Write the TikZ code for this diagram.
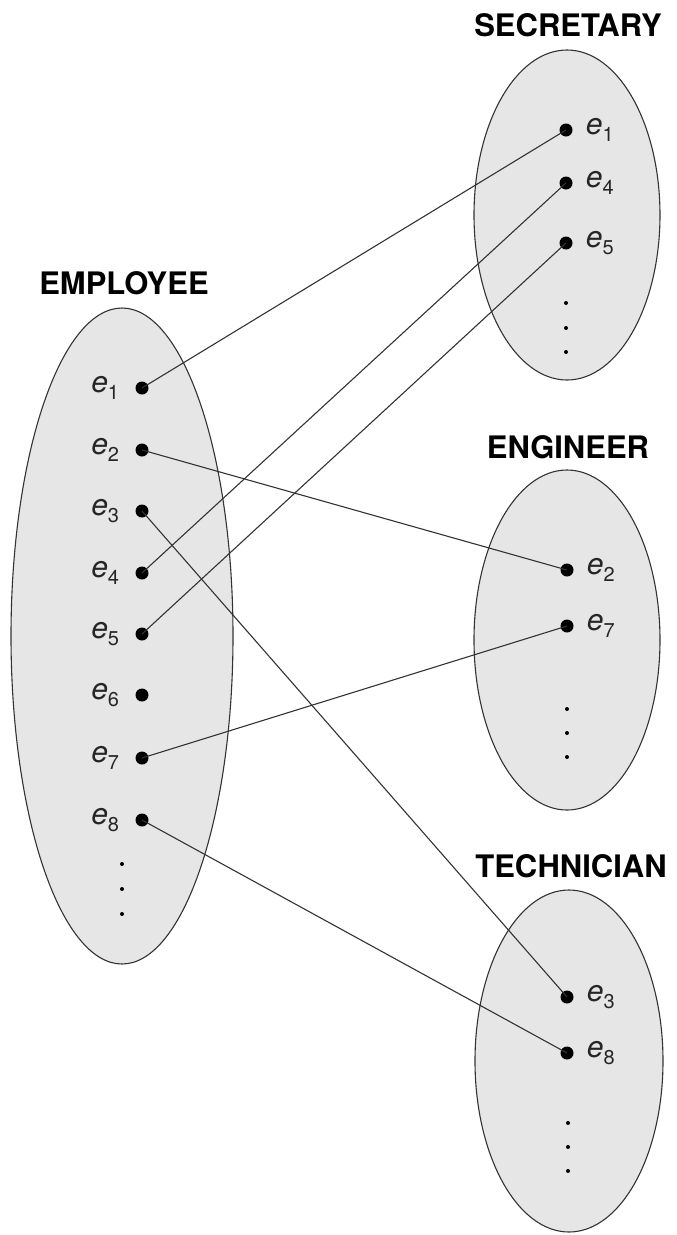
\documentclass[tikz,border=0pt]{standalone}
\usepackage{fontspec}
\setmainfont{TeX Gyre Heros}
\usepackage{xcolor}
\usepackage{tikz}

\definecolor{setgray}{HTML}{E6E6E6}
\definecolor{linegray}{HTML}{333333}

\newcommand{\ent}[1]{\textit{e}\raisebox{-0.25em}{\fontsize{20}{20}\selectfont #1}}

\tikzset{
	setoval/.style={draw=linegray, line width=1.1pt, fill=setgray},
	elt/.style={shape=circle, fill=black, inner sep=0pt, minimum size=13pt},
	moredots/.style={shape=circle, fill=black, inner sep=0pt, minimum size=4pt},
	settitle/.style={font=\fontsize{31}{31}\selectfont\bfseries, text=black},
	link/.style={linegray, line width=1.1pt},
	every label/.style={font=\fontsize{30}{30}\selectfont, inner sep=0pt, text=black!85}
}

\begin{document}
\begin{tikzpicture}[x=1pt,y=-1pt]
			\useasboundingbox (0,0) rectangle (677,1235);

			%% sets
			\draw[setoval] (122,636) ellipse [x radius=111, y radius=328];
			\draw[setoval] (567,215) ellipse [x radius=93, y radius=165];
			\draw[setoval] (567,640) ellipse [x radius=93, y radius=170];
			\draw[setoval] (569,1061) ellipse [x radius=94, y radius=171];

			\node[settitle] (emptitle) at (124,283) {EMPLOYEE};
			\node[settitle] (sectitle) at (568,25) {SECRETARY};
			\node[settitle] (engtitle) at (568,447) {ENGINEER};
			\node[settitle] (techtitle) at (571,866) {TECHNICIAN};

			%% employee
			\node[elt, label={[label distance=16pt]left:\ent{1}}] (emp1) at (142,388) {};
			\node[elt, label={[label distance=16pt]left:\ent{2}}] (emp2) at (142,450) {};
			\node[elt, label={[label distance=16pt]left:\ent{3}}] (emp3) at (142,511) {};
			\node[elt, label={[label distance=16pt]left:\ent{4}}] (emp4) at (142,573) {};
			\node[elt, label={[label distance=16pt]left:\ent{5}}] (emp5) at (142,634) {};
			\node[elt, label={[label distance=16pt]left:\ent{6}}] (emp6) at (142,695) {};
			\node[elt, label={[label distance=16pt]left:\ent{7}}] (emp7) at (142,758) {};
			\node[elt, label={[label distance=16pt]left:\ent{8}}] (emp8) at (142,820) {};
			\node[moredots] (empdotA) at (122,864) {};
			\node[moredots] (empdotB) at (122,889) {};
			\node[moredots] (empdotC) at (122,914) {};

			%% secretary
			\node[elt, label={[label distance=13pt]right:\ent{1}}] (sec1) at (566,130) {};
			\node[elt, label={[label distance=13pt]right:\ent{4}}] (sec4) at (566,183) {};
			\node[elt, label={[label distance=13pt]right:\ent{5}}] (sec5) at (566,243) {};
			\node[moredots] (secdotA) at (566,303) {};
			\node[moredots] (secdotB) at (566,328) {};
			\node[moredots] (secdotC) at (566,352) {};

			%% engineer
			\node[elt, label={[label distance=13pt]right:\ent{2}}] (eng2) at (567,570) {};
			\node[elt, label={[label distance=13pt]right:\ent{7}}] (eng7) at (567,626) {};
			\node[moredots] (engdotA) at (567,709) {};
			\node[moredots] (engdotB) at (567,733) {};
			\node[moredots] (engdotC) at (567,757) {};

			%% technician
			\node[elt, label={[label distance=13pt]right:\ent{3}}] (tech3) at (567,997) {};
			\node[elt, label={[label distance=13pt]right:\ent{8}}] (tech8) at (567,1053) {};
			\node[moredots] (techdotA) at (568,1123) {};
			\node[moredots] (techdotB) at (568,1147) {};
			\node[moredots] (techdotC) at (568,1171) {};

			%% lines
			\draw[link] (emp1.center) -- (sec1.center);
			\draw[link] (emp2.center) -- (eng2.center);
			\draw[link] (emp3.center) -- (tech3.center);
			\draw[link] (emp4.center) -- (sec4.center);
			\draw[link] (emp5.center) -- (sec5.center);
			\draw[link] (emp7.center) -- (eng7.center);
			\draw[link] (emp8.center) -- (tech8.center);
		\end{tikzpicture}
\end{document}
